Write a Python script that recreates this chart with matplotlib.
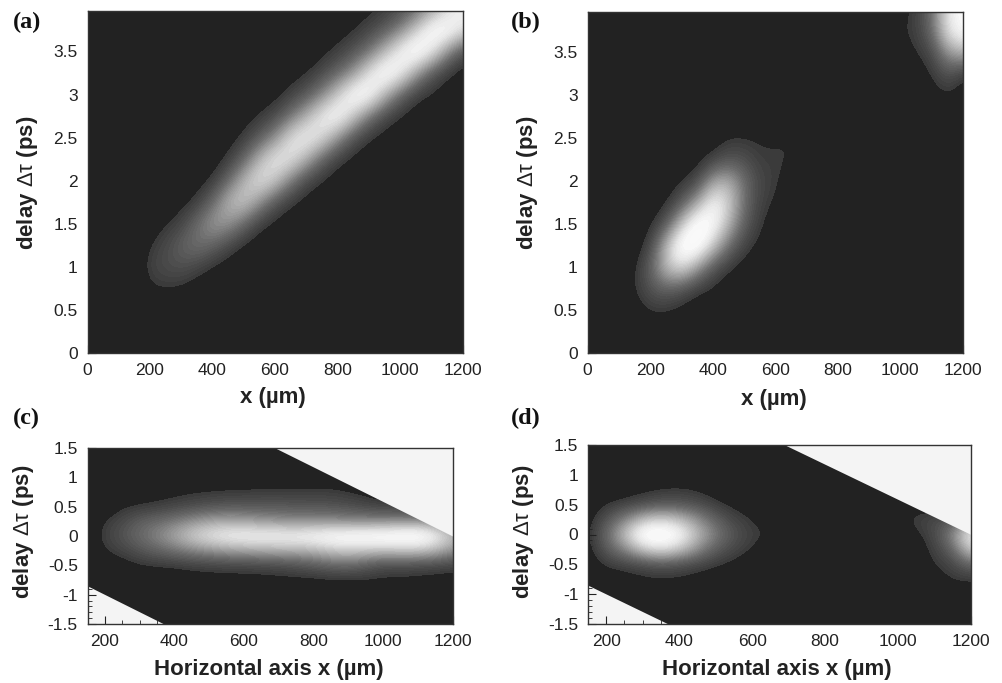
import numpy as np
import matplotlib
matplotlib.use('Agg')
import matplotlib.pyplot as plt
from matplotlib.colors import LinearSegmentedColormap, Normalize

plt.rcParams['font.family'] = ['Liberation Sans', 'DejaVu Sans']
plt.rcParams['mathtext.fontset'] = 'custom'
plt.rcParams['mathtext.rm'] = 'Liberation Sans'
plt.rcParams['mathtext.default'] = 'regular'

# grids, intensity 0-100, one row per x value
grid_x_top = list(range(0, 1250, 50))
grid_y_top = [0, .25, .5, .75, 1, 1.25, 1.5, 1.75, 2, 2.25, 2.5, 2.75, 3, 3.25, 3.5, 3.75, 4]
a_vals = [
    [0, 0, 0, 0, 0, 0, 0, 0, 0, 0, 0, 0, 0, 0, 0, 0, 0],  # 0
    [0, 0, 0, 0, 0, 0, 0, 0, 0, 0, 0, 0, 0, 0, 0, 0, 0],  # 50
    [0, 0, 0, 0, 0, 0, 0, 0, 0, 0, 0, 0, 0, 0, 0, 0, 0],  # 100
    [0, 0, 0, 0, 0, 0, 0, 0, 0, 0, 0, 0, 0, 0, 0, 0, 0],  # 150
    [0, 0, 0, 7, 13, 8, 2, 0, 0, 0, 0, 0, 0, 0, 0, 0, 0],  # 200
    [0, 0, 0, 8, 17, 16, 7, 1, 0, 0, 0, 0, 0, 0, 0, 0, 0],  # 250
    [0, 0, 0, 6, 19, 26, 14, 4, 0, 0, 0, 0, 0, 0, 0, 0, 0],  # 300
    [0, 0, 0, 2, 13, 33, 31, 11, 3, 0, 0, 0, 0, 0, 0, 0, 0],  # 350
    [0, 0, 0, 0, 6, 26, 48, 30, 9, 2, 0, 0, 0, 0, 0, 0, 0],  # 400
    [0, 0, 0, 0, 2, 14, 45, 58, 30, 10, 3, 0, 0, 0, 0, 0, 0],  # 450
    [0, 0, 0, 0, 0, 5, 27, 64, 58, 28, 10, 3, 0, 0, 0, 0, 0],  # 500
    [0, 0, 0, 0, 0, 1, 10, 42, 75, 58, 24, 8, 2, 0, 0, 0, 0],  # 550
    [0, 0, 0, 0, 0, 0, 4, 19, 62, 78, 44, 16, 4, 0, 0, 0, 0],  # 600
    [0, 0, 0, 0, 0, 0, 1, 8, 34, 74, 74, 34, 12, 3, 0, 0, 0],  # 650
    [0, 0, 0, 0, 0, 0, 0, 3, 14, 52, 82, 56, 22, 7, 0, 0, 0],  # 700
    [0, 0, 0, 0, 0, 0, 0, 1, 6, 25, 70, 80, 40, 16, 5, 0, 0],  # 750
    [0, 0, 0, 0, 0, 0, 0, 0, 2, 10, 42, 88, 66, 28, 11, 3, 0],  # 800
    [0, 0, 0, 0, 0, 0, 0, 0, 0, 4, 18, 62, 92, 46, 20, 7, 2],  # 850
    [0, 0, 0, 0, 0, 0, 0, 0, 0, 1, 7, 32, 88, 76, 34, 14, 5],  # 900
    [0, 0, 0, 0, 0, 0, 0, 0, 0, 0, 3, 14, 54, 94, 58, 24, 9],  # 950
    [0, 0, 0, 0, 0, 0, 0, 0, 0, 0, 1, 6, 26, 80, 84, 40, 16],  # 1000
    [0, 0, 0, 0, 0, 0, 0, 0, 0, 0, 0, 2, 10, 46, 96, 66, 28],  # 1050
    [0, 0, 0, 0, 0, 0, 0, 0, 0, 0, 0, 0, 6, 20, 76, 92, 46],  # 1100
    [0, 0, 0, 0, 0, 0, 0, 0, 0, 0, 0, 0, 2, 8, 40, 92, 68],  # 1150
    [0, 0, 0, 0, 0, 0, 0, 0, 0, 0, 0, 0, 0, 2, 16, 72, 84],  # 1200
]
b_vals = [
    [0, 0, 0, 0, 0, 0, 0, 0, 0, 0, 0, 0, 0, 0, 0, 0, 0],  # 0
    [0, 0, 0, 0, 0, 0, 0, 0, 0, 0, 0, 0, 0, 0, 0, 0, 0],  # 50
    [0, 0, 0, 0, 0, 0, 0, 0, 0, 0, 0, 0, 0, 0, 0, 0, 0],  # 100
    [0, 0, 2, 8, 6, 1, 0, 0, 0, 0, 0, 0, 0, 0, 0, 0, 0],  # 150
    [0, 0, 9, 20, 26, 14, 5, 0, 0, 0, 0, 0, 0, 0, 0, 0, 0],  # 200
    [0, 0, 8, 26, 60, 58, 22, 6, 1, 0, 0, 0, 0, 0, 0, 0, 0],  # 250
    [0, 0, 4, 20, 72, 98, 62, 22, 7, 0, 0, 0, 0, 0, 0, 0, 0],  # 300
    [0, 0, 0, 10, 46, 96, 98, 50, 15, 3, 0, 0, 0, 0, 0, 0, 0],  # 350
    [0, 0, 0, 6, 20, 62, 88, 85, 50, 12, 2, 0, 0, 0, 0, 0, 0],  # 400
    [0, 0, 0, 0, 9, 30, 55, 66, 55, 20, 8, 0, 0, 0, 0, 0, 0],  # 450
    [0, 0, 0, 0, 3, 12, 24, 30, 30, 18, 8, 0, 0, 0, 0, 0, 0],  # 500
    [0, 0, 0, 0, 0, 5, 9, 12, 14, 10, 7, 0, 0, 0, 0, 0, 0],  # 550
    [0, 0, 0, 0, 0, 0, 2, 7, 10, 10, 7, 0, 0, 0, 0, 0, 0],  # 600
    [0, 0, 0, 0, 0, 0, 0, 0, 2, 8, 9, 2, 0, 0, 0, 0, 0],  # 650
    [0, 0, 0, 0, 0, 0, 0, 0, 0, 2, 3, 0, 0, 0, 0, 0, 0],  # 700
    [0, 0, 0, 0, 0, 0, 0, 0, 0, 0, 0, 0, 0, 0, 0, 0, 0],  # 750
    [0, 0, 0, 0, 0, 0, 0, 0, 0, 0, 0, 0, 0, 0, 0, 0, 0],  # 800
    [0, 0, 0, 0, 0, 0, 0, 0, 0, 0, 0, 0, 0, 0, 0, 0, 0],  # 850
    [0, 0, 0, 0, 0, 0, 0, 0, 0, 0, 0, 0, 0, 0, 0, 0, 0],  # 900
    [0, 0, 0, 0, 0, 0, 0, 0, 0, 0, 0, 0, 0, 0, 0, 0, 0],  # 950
    [0, 0, 0, 0, 0, 0, 0, 0, 0, 0, 0, 0, 0, 0, 1, 8, 4],  # 1000
    [0, 0, 0, 0, 0, 0, 0, 0, 0, 0, 0, 0, 0, 1, 8, 12, 11],  # 1050
    [0, 0, 0, 0, 0, 0, 0, 0, 0, 0, 0, 0, 3, 9, 16, 30, 32],  # 1100
    [0, 0, 0, 0, 0, 0, 0, 0, 0, 0, 0, 0, 8, 20, 45, 75, 75],  # 1150
    [0, 0, 0, 0, 0, 0, 0, 0, 0, 0, 0, 0, 2, 7, 55, 88, 90],  # 1200
]

grid_x_bot = list(range(100, 1250, 50))
grid_y_bot = [-1.5, -1.25, -1, -.75, -.5, -.25, 0, .25, .5, .75, 1, 1.25, 1.5]
c_vals = [
    [0, 0, 0, 0, 0, 0, 0, 0, 0, 0, 0, 0, 0],  # 100
    [0, 0, 0, 0, 0, 0, 0, 0, 0, 0, 0, 0, 0],  # 150
    [0, 0, 0, 0, 0, 8, 12, 9, 0, 0, 0, 0, 0],  # 200
    [0, 0, 0, 0, 3, 13, 20, 16, 7, 0, 0, 0, 0],  # 250
    [0, 0, 0, 0, 7, 20, 30, 25, 9, 1, 0, 0, 0],  # 300
    [0, 0, 0, 0, 8, 26, 40, 30, 11, 3, 0, 0, 0],  # 350
    [0, 0, 0, 0, 9, 32, 52, 36, 14, 5, 0, 0, 0],  # 400
    [0, 0, 0, 2, 11, 38, 66, 44, 17, 7, 0, 0, 0],  # 450
    [0, 0, 0, 3, 12, 42, 76, 50, 20, 8, 0, 0, 0],  # 500
    [0, 0, 0, 3, 13, 46, 82, 52, 22, 9, 0, 0, 0],  # 550
    [0, 0, 0, 4, 13, 48, 85, 50, 22, 9, 1, 0, 0],  # 600
    [0, 0, 0, 4, 14, 50, 85, 46, 22, 10, 1, 0, 0],  # 650
    [0, 0, 0, 5, 15, 52, 85, 44, 22, 10, 2, 0, 0],  # 700
    [0, 0, 0, 5, 18, 52, 85, 42, 21, 10, 2, 0, 0],  # 750
    [0, 0, 0, 5, 22, 54, 88, 42, 21, 10, 2, 0, 0],  # 800
    [0, 0, 0, 6, 26, 60, 92, 42, 20, 10, 2, 0, 0],  # 850
    [0, 0, 0, 6, 28, 62, 95, 40, 18, 8, 0, 0, 0],  # 900
    [0, 0, 0, 7, 22, 60, 95, 40, 15, 5, 0, 0, 0],  # 950
    [0, 0, 0, 6, 16, 58, 98, 40, 13, 0, 0, 0, 0],  # 1000
    [0, 0, 0, 6, 16, 60, 98, 42, 13, 0, 0, 0, 0],  # 1050
    [0, 0, 0, 5, 15, 60, 98, 45, 0, 0, 0, 0, 0],  # 1100
    [0, 0, 0, 4, 14, 55, 85, 40, 0, 0, 0, 0, 0],  # 1150
    [0, 0, 0, 3, 12, 42, 60, 30, 0, 0, 0, 0, 0],  # 1200
]
d_vals = [
    [0, 0, 0, 0, 0, 0, 0, 0, 0, 0, 0, 0, 0],  # 100
    [0, 0, 0, 0, 0, 3, 5, 3, 0, 0, 0, 0, 0],  # 150
    [0, 0, 0, 0, 10, 22, 28, 20, 8, 0, 0, 0, 0],  # 200
    [0, 0, 0, 2, 13, 38, 60, 38, 13, 1, 0, 0, 0],  # 250
    [0, 0, 0, 6, 16, 62, 96, 60, 18, 5, 0, 0, 0],  # 300
    [0, 0, 0, 7, 20, 72, 100, 68, 22, 8, 0, 0, 0],  # 350
    [0, 0, 0, 6, 18, 62, 88, 60, 22, 9, 0, 0, 0],  # 400
    [0, 0, 0, 3, 14, 42, 58, 44, 18, 7, 0, 0, 0],  # 450
    [0, 0, 0, 0, 9, 24, 36, 26, 11, 2, 0, 0, 0],  # 500
    [0, 0, 0, 0, 5, 14, 20, 14, 5, 0, 0, 0, 0],  # 550
    [0, 0, 0, 0, 0, 8, 11, 8, 2, 0, 0, 0, 0],  # 600
    [0, 0, 0, 0, 0, 0, 8, 3, 0, 0, 0, 0, 0],  # 650
    [0, 0, 0, 0, 0, 0, 0, 0, 0, 0, 0, 0, 0],  # 700
    [0, 0, 0, 0, 0, 0, 0, 0, 0, 0, 0, 0, 0],  # 750
    [0, 0, 0, 0, 0, 0, 0, 0, 0, 0, 0, 0, 0],  # 800
    [0, 0, 0, 0, 0, 0, 0, 0, 0, 0, 0, 0, 0],  # 850
    [0, 0, 0, 0, 0, 0, 0, 0, 0, 0, 0, 0, 0],  # 900
    [0, 0, 0, 0, 0, 0, 0, 0, 0, 0, 0, 0, 0],  # 950
    [0, 0, 0, 0, 0, 0, 0, 6, 3, 0, 0, 0, 0],  # 1000
    [0, 0, 0, 0, 0, 0, 6, 11, 4, 0, 0, 0, 0],  # 1050
    [0, 0, 0, 2, 8, 12, 15, 16, 0, 0, 0, 0, 0],  # 1100
    [0, 0, 0, 9, 14, 26, 40, 20, 0, 0, 0, 0, 0],  # 1150
    [0, 0, 0, 9, 28, 65, 85, 40, 0, 0, 0, 0, 0],  # 1200
]

# white corners of the sheared window in (c) and (d)
upper_edge_x = [690, 1200]
upper_edge_y = [1.5, 0]
lower_edge_x = [150, 370]
lower_edge_y = [-0.85, -1.5]

top_xticks = [0, 200, 400, 600, 800, 1000, 1200]
top_yticks = [0, .5, 1, 1.5, 2, 2.5, 3, 3.5]
top_ylabels = ['0', '0.5', '1', '1.5', '2', '2.5', '3', '3.5']
bot_xticks = [200, 400, 600, 800, 1000, 1200]
bot_yticks = [-1.5, -1, -.5, 0, .5, 1, 1.5]
bot_ylabels = ['-1.5', '-1', '-0.5', '0', '0.5', '1', '1.5']

W, H = 1002, 683
BG = '#222222'
cmap = LinearSegmentedColormap.from_list(
    'plate', [(0, BG), (.07, BG), (.07, '#383838'), (.3, '#6c6c6c'), (.55, '#b4b4b4'),
              (.75, '#e8e8e8'), (.85, '#f8f8f8'), (1, '#fdfdfd')], N=48)
norm = Normalize(0, 100)

fig = plt.figure(figsize=(W / 100, H / 100), dpi=100)


def panel(box, vals, gx, gy, xlim, ylim, xticks, yticks, ylabels, xlabel, xlabel_pos, ylabel_pos, letter, letter_pos, corners=False):
    l, t, r, b = box
    ax = fig.add_axes([l / W, 1 - b / H, (r - l) / W, (b - t) / H])
    z = np.array(vals, dtype=float).T
    dx = (gx[1] - gx[0]) / 2
    dy = (gy[1] - gy[0]) / 2
    ax.imshow(z, origin='lower', aspect='auto', cmap=cmap, norm=norm,
              interpolation='bicubic', interpolation_stage='data',
              extent=[gx[0] - dx, gx[-1] + dx, gy[0] - dy, gy[-1] + dy])
    if corners:
        # zorder under the axis so the inward ticks show on the white
        ax.fill_between(upper_edge_x, upper_edge_y, ylim[1], color='#f4f4f4', lw=0, zorder=1)
        ax.fill_between(lower_edge_x, lower_edge_y, ylim[0], color='#f4f4f4', lw=0, zorder=1)
        ax.set_xticks(np.arange(200, 1200, 50), minor=True)
        ax.set_yticks(np.arange(-1.5, 1.5, .1), minor=True)
    ax.set_xlim(xlim)
    ax.set_ylim(ylim)
    ax.set_xticks(xticks)
    ax.set_yticks(yticks)
    ax.set_yticklabels(ylabels)
    ax.tick_params(which='major', direction='in', length=6, width=.8, color=BG, labelsize=12.5, pad=7, labelcolor='#222222')
    ax.tick_params(which='minor', direction='in', length=3, width=.6, color=BG)
    for s in ax.spines.values():
        s.set_color('#333333')
        s.set_linewidth(1.0)
    ax.set_xlabel(xlabel, fontsize=16, fontweight='bold', color='#222222', va='center')
    ax.set_ylabel(r'delay $\mathrm{\Delta\tau}$ (ps)', fontsize=16, fontweight='bold', color='#222222', va='center')
    ax.xaxis.set_label_coords(xlabel_pos[0] / W, 1 - xlabel_pos[1] / H, transform=fig.transFigure)
    ax.yaxis.set_label_coords(ylabel_pos[0] / W, 1 - ylabel_pos[1] / H, transform=fig.transFigure)
    fig.text(letter_pos[0] / W, 1 - letter_pos[1] / H, letter, family='Liberation Serif',
             fontweight='bold', fontsize=17.5, color='#111111', va='center', ha='left')


panel((87.5, 11, 462.5, 353), a_vals, grid_x_top, grid_y_top, (0, 1200), (0, 3.97), top_xticks, top_yticks, top_ylabels,
      'x (µm)', (273, 398), (28, 183), '(a)', (13, 22))
panel((587.5, 12, 963, 353), b_vals, grid_x_top, grid_y_top, (0, 1200), (0, 3.97), top_xticks, top_yticks, top_ylabels,
      'x (µm)', (774, 399), (528, 183), '(b)', (511, 22))
panel((87.5, 448, 452.5, 624), c_vals, grid_x_bot, grid_y_bot, (150, 1200), (-1.5, 1.5), bot_xticks, bot_yticks, bot_ylabels,
      'Horizontal axis x (µm)', (269, 670), (23, 532), '(c)', (13, 418), corners=True)
panel((588, 445, 971, 624), d_vals, grid_x_bot, grid_y_bot, (150, 1200), (-1.5, 1.5), bot_xticks, bot_yticks, bot_ylabels,
      'Horizontal axis x (µm)', (777, 670), (523, 532), '(d)', (511, 418), corners=True)

fig.savefig('out.png', dpi=100)
